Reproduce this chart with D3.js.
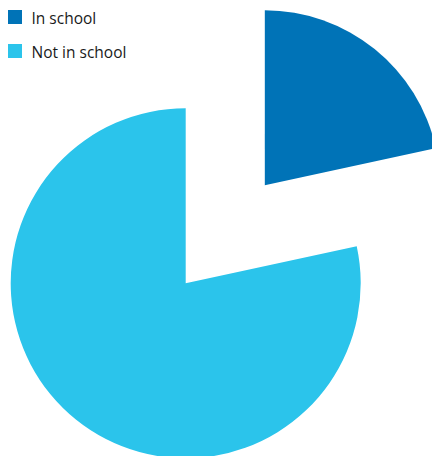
<!DOCTYPE html>
<html>
<head>
<meta charset="utf-8">
<script src="https://cdn.jsdelivr.net/npm/d3@7"></script>
<style>
  body { margin: 0; background: #fff; }
  svg { display: block; }
  text { font-family: "Open Sans", sans-serif; font-size: 15.5px; fill: #1a1a1a; }
</style>
</head>
<body>
<svg id="chart"></svg>
<script>
// Share of children (percent)
const categories = ["In school", "Not in school"];
const values = [21.6, 78.4];
const colors = ["#0073b7", "#2bc4eb"];

const width = 432, height = 456;
const radius = 175;
const cx = 185.7, cy = 283.3; // pie centre
const explode = [126, 0];     // how far each slice is pulled out

const svg = d3.select("#chart")
  .attr("width", width)
  .attr("height", height);

const pie = d3.pie().sort(null).value(d => d);
const arc = d3.arc().innerRadius(0).outerRadius(radius);

const slices = pie(values);

svg.append("g")
  .attr("transform", "translate(" + cx + "," + cy + ")")
  .selectAll("path")
  .data(slices)
  .enter().append("path")
  .attr("transform", (d, i) => {
    const mid = (d.startAngle + d.endAngle) / 2;
    return "translate(" + (Math.sin(mid) * explode[i]) + "," + (-Math.cos(mid) * explode[i]) + ")";
  })
  .attr("d", arc)
  .attr("fill", (d, i) => colors[i]);

// Legend
const legend = svg.append("g")
  .selectAll("g")
  .data(categories)
  .enter().append("g")
  .attr("transform", (d, i) => "translate(8," + (10 + i * 34) + ")");

legend.append("rect")
  .attr("width", 14)
  .attr("height", 14)
  .attr("fill", (d, i) => colors[i]);

legend.append("text")
  .attr("x", 23.5)
  .attr("y", 14)
  .text(d => d);
</script>
</body>
</html>
